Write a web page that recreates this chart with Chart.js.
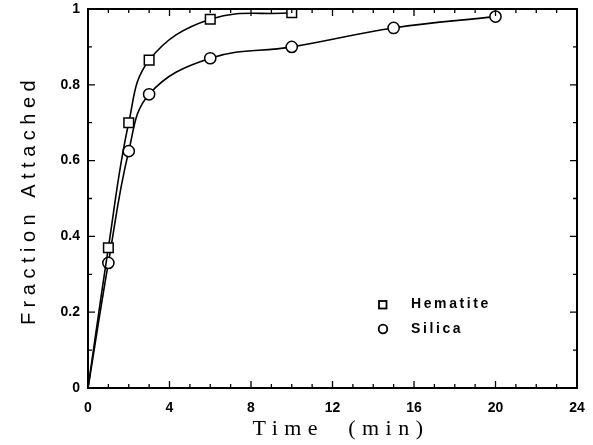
<!DOCTYPE html>
<html>
<head>
<meta charset="utf-8">
<script src="https://cdn.jsdelivr.net/npm/chart.js@4.4.1/dist/chart.umd.min.js"></script>
<style>
  html, body { margin: 0; padding: 0; background: #fff; }
  #wrap { width: 593px; height: 445px; }
</style>
</head>
<body>
<div id="wrap"><canvas id="attachChart"></canvas></div>
<script>
// data (time in min, fraction attached)
var hematiteTime = [0, 1, 2, 3, 6, 10];
var hematiteFrac = [0, 0.37, 0.70, 0.865, 0.973, 0.99];
var silicaTime = [0, 1, 2, 3, 6, 10, 15, 20];
var silicaFrac = [0, 0.33, 0.625, 0.775, 0.87, 0.90, 0.95, 0.98];
var xTickLabels = [0, 4, 8, 12, 16, 20, 24];
var yTickLabels = [0, 0.2, 0.4, 0.6, 0.8, 1];
var seriesNames = ['Hematite', 'Silica'];

function toPoints(xs, ys){
	var out = [];
	for (var i = 0; i < xs.length; i++) out.push({x: xs[i], y: ys[i]});
	return out;
}
// first point is the curve origin, no marker there
function radii(n, r){
	var out = [];
	for (var i = 0; i < n; i++) out.push(i === 0 ? 0 : r);
	return out;
}

var framePlugin = {
	id: 'frame',
	afterDraw: function(chart){
		var ctx = chart.ctx, a = chart.chartArea;
		var xs = chart.scales.x, ys = chart.scales.y;
		ctx.save();
		ctx.strokeStyle = '#000';
		// inward ticks on all four sides
		ctx.lineWidth = 1.3;
		ctx.beginPath();
		for (var v = 0; v <= 24; v++){
			var px = xs.getPixelForValue(v);
			var len = (v % 4 === 0) ? 7 : 4;
			ctx.moveTo(px, a.bottom); ctx.lineTo(px, a.bottom - len);
			ctx.moveTo(px, a.top); ctx.lineTo(px, a.top + len);
		}
		for (var k = 0; k <= 10; k++){
			var py = ys.getPixelForValue(k / 10);
			var l2 = (k % 2 === 0) ? 7 : 4;
			ctx.moveTo(a.left, py); ctx.lineTo(a.left + l2, py);
			ctx.moveTo(a.right, py); ctx.lineTo(a.right - l2, py);
		}
		ctx.stroke();
		// plot border
		ctx.lineWidth = 2;
		ctx.strokeRect(a.left, a.top, a.right - a.left, a.bottom - a.top);

		ctx.fillStyle = '#000';
		// x axis title
		ctx.font = '22px "Liberation Serif", "Times New Roman", serif';
		ctx.letterSpacing = '6.5px';
		ctx.textAlign = 'center';
		ctx.textBaseline = 'alphabetic';
		ctx.fillText('Time  (min)', 341, 435);
		// y axis title
		ctx.save();
		ctx.translate(35, 200);
		ctx.rotate(-Math.PI / 2);
		ctx.font = '20px "Liberation Sans", Arial, sans-serif';
		ctx.letterSpacing = '5.5px';
		ctx.fillText('Fraction Attached', 0, 0);
		ctx.restore();

		// legend inside the plot
		ctx.font = 'bold 14px "Liberation Sans", Arial, sans-serif';
		ctx.letterSpacing = '2.6px';
		ctx.textAlign = 'left';
		ctx.textBaseline = 'middle';
		ctx.lineWidth = 1.8;
		ctx.strokeRect(379, 301, 7.5, 7.5);
		ctx.beginPath();
		ctx.arc(383, 329, 4.3, 0, Math.PI * 2);
		ctx.stroke();
		ctx.fillText(seriesNames[0], 411, 304);
		ctx.fillText(seriesNames[1], 411, 329);
		ctx.restore();
	}
};

var ctx = document.getElementById('attachChart');
var myChart = new Chart(ctx, {
	type: 'scatter',
	data: {
		datasets: [{
			label: seriesNames[0],
			data: toPoints(hematiteTime, hematiteFrac),
			showLine: true,
			tension: 0.4,
			borderColor: '#000',
			borderWidth: 1.6,
			pointStyle: 'rect',
			pointRadius: radii(hematiteTime.length, 6.8),
			pointBackgroundColor: '#fff',
			pointBorderColor: '#000',
			pointBorderWidth: 1.5
		}, {
			label: seriesNames[1],
			data: toPoints(silicaTime, silicaFrac),
			showLine: true,
			tension: 0.4,
			borderColor: '#000',
			borderWidth: 1.6,
			pointStyle: 'circle',
			pointRadius: radii(silicaTime.length, 5.6),
			pointBackgroundColor: '#fff',
			pointBorderColor: '#000',
			pointBorderWidth: 1.5
		}]
	},
	options: {
		responsive: true,
		maintainAspectRatio: false,
		animation: false,
		events: [],
		layout: { padding: { left: 0, top: 9, right: 16, bottom: 0 } },
		plugins: { legend: { display: false }, tooltip: { enabled: false } },
		scales: {
			x: {
				type: 'linear',
				min: 0,
				max: 24,
				afterBuildTicks: function(scale){
					scale.ticks = xTickLabels.map(function(v){ return {value: v}; });
				},
				afterFit: function(scale){
					scale.height = 57;
					scale.paddingLeft = 0;
					scale.paddingRight = 0;
				},
				grid: { display: false, drawTicks: false },
				border: { display: false },
				ticks: {
					padding: 12,
					color: '#000',
					font: { family: '"Liberation Sans", Arial, sans-serif', size: 14, weight: 'bold' }
				}
			},
			y: {
				min: 0,
				max: 1,
				afterBuildTicks: function(scale){
					scale.ticks = yTickLabels.map(function(v){ return {value: v}; });
				},
				afterFit: function(scale){
					scale.width = 88;
					scale.paddingTop = 0;
					scale.paddingBottom = 0;
				},
				grid: { display: false, drawTicks: false },
				border: { display: false },
				ticks: {
					padding: 8,
					color: '#000',
					font: { family: '"Liberation Sans", Arial, sans-serif', size: 14, weight: 'bold' },
					callback: function(v){ return String(v); }
				}
			}
		}
	},
	plugins: [framePlugin]
});
</script>
</body>
</html>
